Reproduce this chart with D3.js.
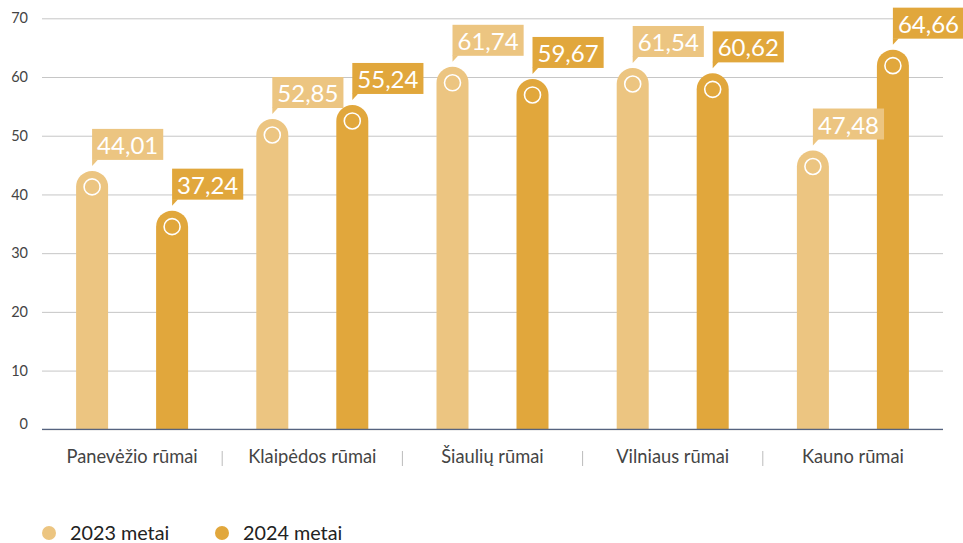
<!DOCTYPE html>
<html>
<head>
<meta charset="utf-8">
<script src="https://cdn.jsdelivr.net/npm/d3@7"></script>
<style>
  html, body { margin: 0; padding: 0; background: #fff; }
  svg { display: block; font-family: Lato, "Open Sans", sans-serif; }
</style>
</head>
<body>
<svg id="chart" width="963" height="543"></svg>
<script>
const categories = ["Panevėžio rūmai", "Klaipėdos rūmai", "Šiaulių rūmai", "Vilniaus rūmai", "Kauno rūmai"];
const seriesNames = ["2023 metai", "2024 metai"];
const values2023 = [44.01, 52.85, 61.74, 61.54, 47.48];
const values2024 = [37.24, 55.24, 59.67, 60.62, 64.66];
const yTicks = [0, 10, 20, 30, 40, 50, 60, 70];
const colors = ["#ECC581", "#E1A73C"];

(function () {
const svg = d3.select("#chart");
const mLeft = 42, mRight = 943, mTop = 18.3, mBottom = 429.3;

const x = d3.scaleBand().domain(categories).range([mLeft, mRight]).paddingInner(0).paddingOuter(0);
const y = d3.scaleLinear().domain([0, 70]).range([mBottom, mTop]);
const offset = d3.scaleOrdinal().domain(seriesNames).range([-40, 40]);
const barW = 32, r = barW / 2;

// gridlines
const grid = svg.append("g")
  .attr("transform", `translate(${mLeft},0)`)
  .call(d3.axisLeft(y).tickValues(yTicks).tickSize(-(mRight - mLeft)).tickFormat(""));
grid.select(".domain").remove();
grid.selectAll(".tick line").attr("stroke", "#c6c6c6").attr("stroke-width", 1);

// y labels
const yAx = svg.append("g")
  .attr("transform", `translate(${mLeft},0)`)
  .call(d3.axisLeft(y).tickValues(yTicks).tickSize(0).tickPadding(14));
yAx.select(".domain").remove();
yAx.selectAll("text").attr("font-size", 14.5).attr("fill", "#444").attr("font-family", "Lato, sans-serif")
  .attr("dy", d => d === 0 ? "-0.05em" : "0.32em");

const data = [];
categories.forEach((c, i) => {
  data.push({ cat: c, s: seriesNames[0], v: values2023[i], col: colors[0] });
  data.push({ cat: c, s: seriesNames[1], v: values2024[i], col: colors[1] });
});
const fmt = v => d3.format(".2f")(v).replace(".", ",");

// bars with rounded top
const bars = svg.append("g");
data.forEach(d => {
  const cx = x(d.cat) + x.bandwidth() / 2 + offset(d.s);
  const yt = y(d.v), yb = y(0);
  const p = d3.path();
  p.moveTo(cx - r, yb);
  p.lineTo(cx - r, yt + r);
  p.arc(cx, yt + r, r, Math.PI, 0);
  p.lineTo(cx + r, yb);
  p.closePath();
  bars.append("path").attr("d", p.toString()).attr("fill", d.col);
  bars.append("circle").attr("cx", cx).attr("cy", yt + r).attr("r", 8)
    .attr("fill", "none").attr("stroke", "#fff").attr("stroke-width", 1.6);
});

// zero axis
svg.append("line").attr("x1", mLeft).attr("x2", mRight).attr("y1", y(0)).attr("y2", y(0))
  .attr("stroke", "#56637f").attr("stroke-width", 1.3);

// value labels
const labels = svg.append("g");
data.forEach(d => {
  const cx = x(d.cat) + x.bandwidth() / 2 + offset(d.s);
  const yt = y(d.v);
  const rb = yt - 11;
  const g = labels.append("g");
  const rect = g.append("rect").attr("fill", d.col);
  const t = g.append("text").text(fmt(d.v)).attr("x", cx + 5).attr("y", rb - 6)
    .attr("font-size", 24).attr("fill", "#fff").attr("font-family", "Lato, sans-serif");
  const w = t.node().getComputedTextLength();
  rect.attr("x", cx).attr("y", rb - 31).attr("width", w + 10).attr("height", 31);
  g.append("path").attr("d", `M${cx},${rb - 0.5}L${cx + 6},${rb - 0.5}L${cx},${rb + 6}Z`).attr("fill", d.col);
});

// category labels
const xAx = svg.append("g").attr("transform", `translate(0,${y(0)})`)
  .call(d3.axisBottom(x).tickSize(0).tickPadding(21));
xAx.select(".domain").remove();
xAx.selectAll("text").attr("font-size", 18.3).attr("fill", "#444").attr("font-family", "Lato, sans-serif");

// separators
svg.append("g").selectAll("line").data(categories.slice(1)).join("line")
  .attr("x1", d => x(d)).attr("x2", d => x(d)).attr("y1", 451).attr("y2", 466)
  .attr("stroke", "#bbb").attr("stroke-width", 1);

// legend
const lx = [49, 222];
const leg = svg.append("g");
seriesNames.forEach((s, i) => {
  leg.append("circle").attr("cx", lx[i]).attr("cy", 533).attr("r", 7).attr("fill", colors[i]);
  leg.append("text").attr("x", lx[i] + 21).attr("y", 540).text(s)
    .attr("font-size", 19.8).attr("fill", "#222").attr("font-family", "Lato, sans-serif");
});
})();
</script>
</body>
</html>
